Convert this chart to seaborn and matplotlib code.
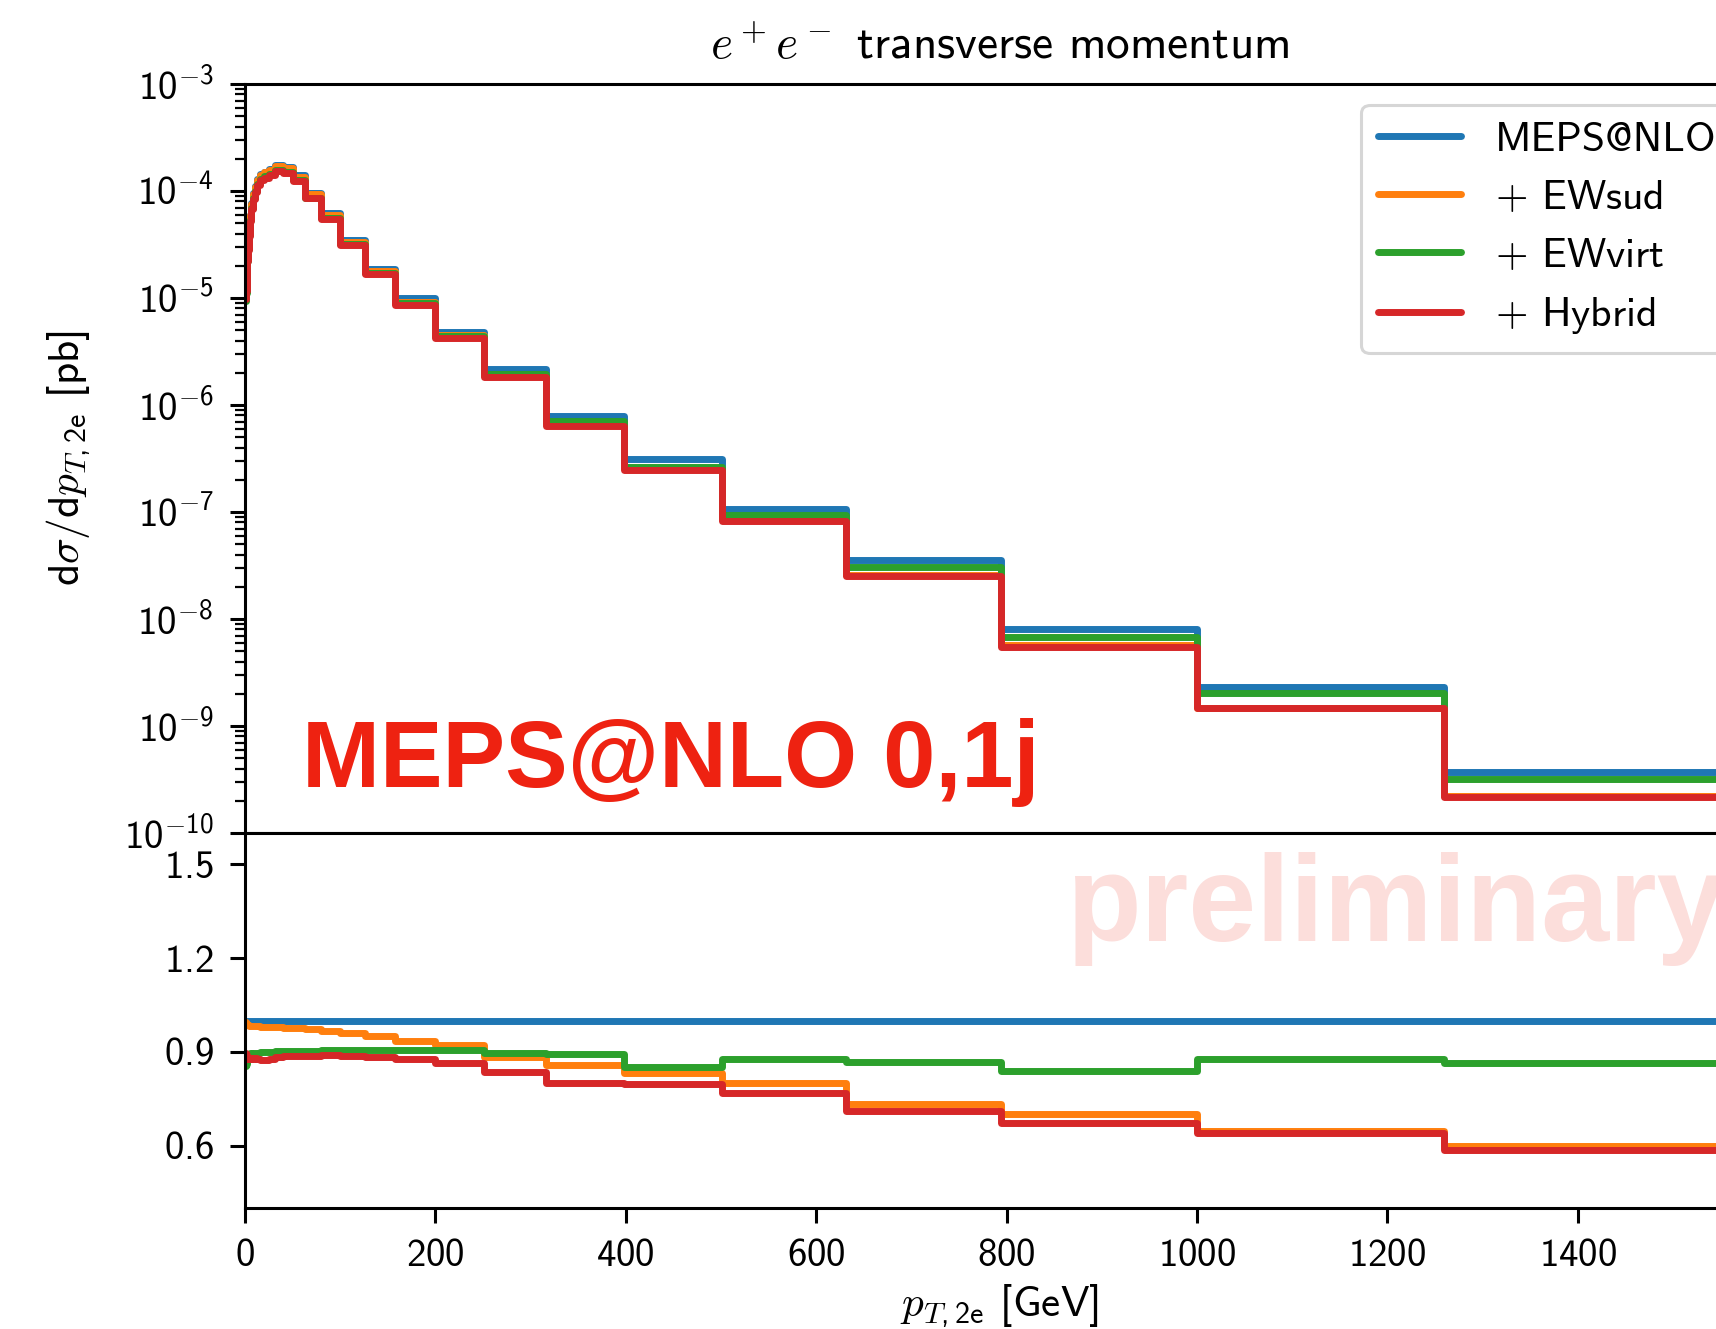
import matplotlib
matplotlib.use("Agg")
import matplotlib.pyplot as plt
import numpy as np
import pandas as pd
import seaborn as sns

# ---------------- data ----------------
bin_edges = [1.0, 1.26, 1.58, 2.0, 2.51, 3.16, 3.98, 5.01, 6.31, 7.94,
             10.0, 12.6, 15.8, 20.0, 25.1, 31.6, 39.8, 50.1, 63.1, 79.4,
             100.0, 126.0, 158.0, 200.0, 251.0, 316.0, 398.0, 501.0, 631.0, 794.0,
             1000.0, 1259.0, 1585.0]

meps_xs = [1.1e-5, 1.3e-5, 1.6e-5, 2.0e-5, 2.5e-5, 3.2e-5, 4.3e-5, 6.0e-5, 7.7e-5, 9.5e-5,
           1.12e-4, 1.3e-4, 1.45e-4, 1.52e-4, 1.6e-4, 1.75e-4, 1.68e-4, 1.4e-4, 9.6e-5, 6.2e-5,
           3.5e-5, 1.88e-5, 9.9e-6, 4.85e-6, 2.18e-6, 7.9e-7, 3.1e-7, 1.07e-7, 3.55e-8, 8.1e-9,
           2.3e-9, 3.7e-10]

ratio_ewsud = [0.995, 0.990, 0.988, 0.986, 0.985, 0.985, 0.984, 0.984, 0.983, 0.983,
               0.982, 0.981, 0.980, 0.980, 0.979, 0.978, 0.977, 0.975, 0.972, 0.967,
               0.959, 0.951, 0.936, 0.922, 0.884, 0.857, 0.831, 0.800, 0.732, 0.702,
               0.647, 0.598]

ratio_ewvirt = [0.855, 0.862, 0.875, 0.884, 0.888, 0.890, 0.893, 0.895, 0.893, 0.896,
                0.897, 0.896, 0.898, 0.899, 0.900, 0.901, 0.902, 0.903, 0.904, 0.905,
                0.906, 0.907, 0.907, 0.906, 0.897, 0.893, 0.852, 0.876, 0.867, 0.839,
                0.876, 0.865]

ratio_hybrid = [0.895, 0.890, 0.882, 0.878, 0.880, 0.876, 0.879, 0.877, 0.880, 0.878,
                0.880, 0.876, 0.874, 0.875, 0.878, 0.882, 0.885, 0.886, 0.887, 0.890,
                0.886, 0.884, 0.876, 0.863, 0.836, 0.800, 0.798, 0.768, 0.711, 0.672,
                0.641, 0.587]

series_labels = ["MEPS@NLO", r"$+$ EWsud", r"$+$ EWvirt", r"$+$ Hybrid"]
series_colors = ["#1f77b4", "#ff7f0e", "#2ca02c", "#d62728"]

title_text = r"$e^+e^-$ transverse momentum"
xlabel_text = r"$p_{T,\mathsf{2e}}$ [GeV]"
ylabel_text = r"d$\sigma$/d$p_{T,\mathsf{2e}}$ [pb]"
y_ratio_ticks = [0.6, 0.9, 1.2, 1.5]
x_ticks = [0, 200, 400, 600, 800, 1000, 1200, 1400]

# ---------------- style ----------------
sns.set_style("ticks")
plt.rcParams.update({
    "font.family": ["cmss10", "DejaVu Sans"],
    "mathtext.fontset": "custom",
    "mathtext.rm": "cmss10",
    "mathtext.sf": "cmss10",
    "mathtext.it": "cmmi10",
    "mathtext.bf": "cmb10",
    "mathtext.tt": "cmtt10",
    "mathtext.cal": "cmsy10",
    "mathtext.fallback": "cm",
    "axes.unicode_minus": True,
    "axes.formatter.use_mathtext": True,
    "axes.edgecolor": "black",
    "axes.linewidth": 2.2,
    "text.color": "black",
    "axes.labelcolor": "black",
    "xtick.color": "black",
    "ytick.color": "black",
    "xtick.direction": "out",
    "ytick.direction": "out",
    "axes.grid": False,
    "legend.edgecolor": "0.8",
})

# ---------------- long tables ----------------
ratios = [[1.0] * len(meps_xs), ratio_ewsud, ratio_ewvirt, ratio_hybrid]
rows_top, rows_rat = [], []
for lab, rat in zip(series_labels, ratios):
    vals = [m * r for m, r in zip(meps_xs, rat)]
    vals_step = vals + [vals[-1]]
    rat_step = list(rat) + [rat[-1]]
    for e, v, r in zip(bin_edges, vals_step, rat_step):
        rows_top.append({"pT": e, "xs": v, "series": lab})
        rows_rat.append({"pT": e, "ratio": r, "series": lab})
df_top = pd.DataFrame(rows_top)
df_rat = pd.DataFrame(rows_rat)

# ---------------- figure ----------------
fig = plt.figure(figsize=(17.16, 13.29), dpi=100)
ax1 = fig.add_axes([0.1428, 0.3732, 0.8793, 0.5636])
ax2 = fig.add_axes([0.1428, 0.0910, 0.8793, 0.2822], sharex=ax1)

lw = 5.0
sns.lineplot(data=df_top, x="pT", y="xs", hue="series", hue_order=series_labels,
             palette=series_colors, drawstyle="steps-post", linewidth=lw,
             estimator=None, sort=False, legend=False, ax=ax1)
sns.lineplot(data=df_rat, x="pT", y="ratio", hue="series", hue_order=series_labels,
             palette=series_colors, drawstyle="steps-post", linewidth=lw,
             estimator=None, sort=False, legend=False, ax=ax2)

ax1.set_yscale("log")
ax1.set_ylim(1e-10, 1e-3)
ax1.set_xlim(0, 1585)
ax2.set_ylim(0.4, 1.6)
ax2.set_yticks(y_ratio_ticks)
ax2.set_xticks(x_ticks)
ax1.yaxis.set_major_locator(matplotlib.ticker.LogLocator(base=10, numticks=20))
ax1.yaxis.set_minor_locator(matplotlib.ticker.LogLocator(base=10, subs=np.arange(2, 10), numticks=20))
ax1.yaxis.set_minor_formatter(matplotlib.ticker.NullFormatter())
ax1.yaxis.set_major_formatter(matplotlib.ticker.FuncFormatter(
    lambda v, p: r"$\mathsf{10^{%d}}$" % int(round(np.log10(v)))))

fs = 28
ax1.tick_params(axis="x", which="both", bottom=False, labelbottom=False)
ax1.tick_params(axis="y", which="major", length=10.5, width=2.2, labelsize=fs, pad=12)
ax1.tick_params(axis="y", which="minor", length=7, width=1.6)
ax2.tick_params(axis="y", which="major", length=10.5, width=2.2, labelsize=fs, pad=12)
ax2.tick_params(axis="x", which="major", length=10.5, width=2.2, labelsize=fs, pad=12)
ax2.minorticks_off()

for ax in (ax1, ax2):
    for s in ax.spines.values():
        s.set_linewidth(2.2)
        s.set_color("black")

ax1.set_xlabel("")
ax1.set_ylabel(ylabel_text, fontsize=31, labelpad=22)
ax2.set_ylabel("")
ax2.set_xlabel(xlabel_text, fontsize=31, labelpad=6)
ax1.set_title(title_text, fontsize=34, pad=18)

handles = ax1.get_lines()[:4]
leg = ax1.legend(handles, series_labels, loc="upper right", fontsize=30,
                 frameon=True, borderaxespad=0.5, handlelength=2.0,
                 handletextpad=0.8, labelspacing=0.5)
leg.get_frame().set_linewidth(2.2)

ax1.text(0.0378, 0.0615, "MEPS@NLO 0,1j", transform=ax1.transAxes,
         fontsize=67.5, fontweight="bold", family="Liberation Sans",
         color="#EE2211", ha="left", va="baseline")
ax2.text(0.5447, 0.712, "preliminary", transform=ax2.transAxes,
         fontsize=88, fontweight="bold", family="Liberation Sans",
         color="#EE2211", alpha=0.15, ha="left", va="baseline")

fig.savefig("out.png", dpi=100)
